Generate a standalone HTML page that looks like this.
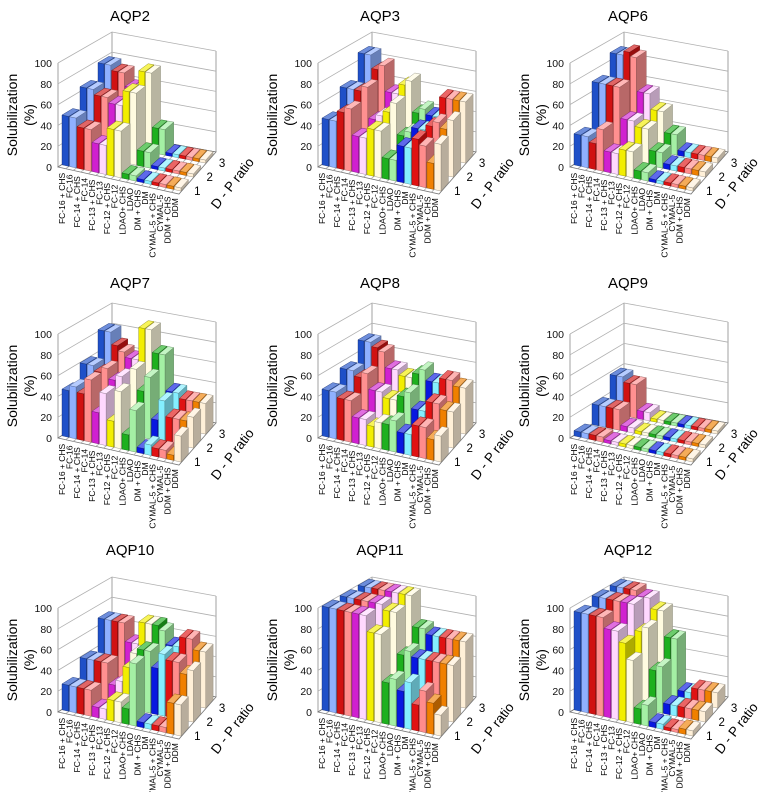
<!DOCTYPE html>
<html><head><meta charset="utf-8">
<style>
html,body{margin:0;padding:0;background:#fff;}
svg{display:block;font-family:"Liberation Sans",sans-serif;}
</style></head>
<body>
<svg id="fig" width="760" height="792" viewBox="0 0 760 792" xmlns="http://www.w3.org/2000/svg"></svg>
<script>
const categories = ["FC-16 + CHS","FC-16","FC-14 + CHS","FC-14","FC-13 + CHS","FC-13","FC-12 + CHS","FC-12","LDAO+ CHS","LDAO","DM + CHS","DM","CYMAL-5 + CHS","CYMAL-5","DDM + CHS","DDM"];
const ratioLabels = ["1","2","3"];
const yTicks = [0,20,40,60,80,100];
const panelTitles = ["AQP2","AQP3","AQP6","AQP7","AQP8","AQP9","AQP10","AQP11","AQP12"];
const barColors = ["#1f50c8","#8fb0ff","#d01212","#ff9090","#d020d0","#ffd8ff","#f2ee00","#fffbe0","#1eb01e","#a4f0a4","#0818e0","#84eeff","#e01212","#ff8c8c","#f08000","#fff0d8"];

const aqp2_ratio1 = [48,48,40,40,28,28,45,45,5,5,3,3,3,3,3,3];
const aqp2_ratio2 = [65,65,60,60,55,55,70,70,15,15,3,3,3,3,3,3];
const aqp2_ratio3 = [78,78,73,73,60,60,78,78,25,25,3,3,3,3,3,3];
const aqp3_ratio1 = [45,45,55,60,35,35,45,45,20,20,35,35,45,40,25,45];
const aqp3_ratio2 = [65,65,65,70,40,45,50,60,30,35,40,40,45,50,45,55];
const aqp3_ratio3 = [88,88,75,80,55,55,65,70,40,45,40,40,60,60,60,60];
const aqp6_ratio1 = [30,30,25,40,20,20,25,25,8,8,3,3,3,3,3,3];
const aqp6_ratio2 = [70,70,70,70,40,40,35,35,15,15,5,5,5,5,5,5];
const aqp6_ratio3 = [88,88,92,88,55,55,40,40,20,20,5,5,5,5,5,5];
const aqp7_ratio1 = [45,50,45,60,30,50,25,55,15,40,5,10,8,8,5,25];
const aqp7_ratio2 = [60,60,55,60,50,55,40,65,45,60,20,40,25,25,25,30];
const aqp7_ratio3 = [82,82,70,65,60,60,92,92,70,70,35,35,30,30,30,30];
const aqp8_ratio1 = [45,45,40,40,25,25,20,25,25,30,20,20,30,30,20,25];
const aqp8_ratio2 = [55,55,50,55,40,40,35,35,40,45,30,30,40,40,35,35];
const aqp8_ratio3 = [72,72,68,65,50,50,45,45,50,55,45,45,50,50,45,45];
const aqp9_ratio1 = [5,5,5,5,3,3,3,3,3,3,3,3,3,3,3,3];
const aqp9_ratio2 = [20,20,20,20,5,5,3,3,3,3,3,3,3,3,3,3];
const aqp9_ratio3 = [38,38,33,33,8,8,3,3,3,3,3,3,3,3,3,3];
const aqp10_ratio1 = [25,25,25,25,10,10,20,20,15,60,5,5,5,5,30,30];
const aqp10_ratio2 = [40,40,40,40,20,25,40,55,60,60,45,60,55,55,45,50];
const aqp10_ratio3 = [68,68,68,68,50,50,72,72,72,68,55,55,65,65,55,55];
const aqp11_ratio1 = [100,100,100,100,100,100,85,85,40,45,35,45,25,40,30,20];
const aqp11_ratio2 = [100,100,100,100,100,100,95,95,55,60,55,55,55,55,55,55];
const aqp11_ratio3 = [100,100,100,100,100,100,100,100,70,70,65,65,65,65,65,65];
const aqp12_ratio1 = [95,95,95,95,85,85,75,60,15,20,5,5,3,3,5,5];
const aqp12_ratio2 = [100,100,100,100,100,100,75,80,40,45,10,10,10,10,10,10];
const aqp12_ratio3 = [100,100,100,100,95,95,85,85,60,60,10,10,15,15,15,15];

const panelSeries = [
 [aqp2_ratio1,aqp2_ratio2,aqp2_ratio3],[aqp3_ratio1,aqp3_ratio2,aqp3_ratio3],[aqp6_ratio1,aqp6_ratio2,aqp6_ratio3],
 [aqp7_ratio1,aqp7_ratio2,aqp7_ratio3],[aqp8_ratio1,aqp8_ratio2,aqp8_ratio3],[aqp9_ratio1,aqp9_ratio2,aqp9_ratio3],
 [aqp10_ratio1,aqp10_ratio2,aqp10_ratio3],[aqp11_ratio1,aqp11_ratio2,aqp11_ratio3],[aqp12_ratio1,aqp12_ratio2,aqp12_ratio3]];

const NS = "http://www.w3.org/2000/svg";
const svg = document.getElementById("fig");
function mk(tag, attrs, parent){ const e=document.createElementNS(NS,tag); for(const k in attrs) e.setAttribute(k,attrs[k]); parent.appendChild(e); return e; }
function shade(hex,f){ const n=parseInt(hex.slice(1),16); let r=n>>16,g=(n>>8)&255,b=n&255;
  if(f<1){r*=f;g*=f;b*=f;} else {r=r+(255-r)*(f-1);g=g+(255-g)*(f-1);b=b+(255-b)*(f-1);}
  return "rgb("+Math.round(r)+","+Math.round(g)+","+Math.round(b)+")"; }

const FL=[58,167], FR=[179,194], BL=[112,133], BR=[216,152];
function floorPt(u,w){ const x=(1-u)*(1-w)*FL[0]+u*(1-w)*FR[0]+(1-u)*w*BL[0]+u*w*BR[0];
  const y=(1-u)*(1-w)*FL[1]+u*(1-w)*FR[1]+(1-u)*w*BL[1]+u*w*BR[1]; return [x,y]; }
function hScale(w){ return 1.04-0.03*w; }
function pt(u,w,v){ const p=floorPt(u,w); return [p[0], p[1]-v*hScale(w)]; }
function poly(pts){ return pts.map(p=>p[0].toFixed(1)+","+p[1].toFixed(1)).join(" "); }

const colX=[0,260,512], rowY=[0,271,545], titleX=[130,380,628], titleY=[21,288,555], dpX=[236,236,228];

panelTitles.forEach((title,pi)=>{
  const col=pi%3, row=Math.floor(pi/3);
  const cx=colX[col], cy=rowY[row];
  const t=mk("text",{x:titleX[col],y:titleY[row],"text-anchor":"middle","font-size":"15"},svg);
  t.textContent=title;
  
  
  const g=mk("g",{transform:"translate("+cx+","+cy+")"},svg);
  
  
  const axes=mk("g",{stroke:"#8a8a8a","stroke-width":"0.8",fill:"none"},g);
  
  
  [[0,0],[0,1],[1,1]].forEach(([u,w])=>{ const a=pt(u,w,0), b=pt(u,w,100); mk("line",{x1:a[0],y1:a[1],x2:b[0],y2:b[1]},axes); });
  yTicks.forEach(v=>{ const a=pt(0,0,v), b=pt(0,1,v), c=pt(1,1,v);
    mk("polyline",{points:poly([a,b,c]),stroke:v===0?"#666":"#b0b0b0"},axes); });
  mk("polygon",{points:poly([floorPt(0,0),floorPt(1,0),floorPt(1,1),floorPt(0,1)]),fill:"#fff",stroke:"#777"},axes);
  for(let i=1;i<16;i++){ const a=floorPt(i/16,0), b=floorPt(i/16,1); mk("line",{x1:a[0],y1:a[1],x2:b[0],y2:b[1],stroke:"#aaa"},axes); }
  yTicks.forEach(v=>{ const p=pt(0,0,v); const tt=mk("text",{x:p[0]-6,y:p[1]+4,"text-anchor":"end","font-size":"10.5",fill:"#111"},g); tt.textContent=v;
    
     });
  const yt=mk("text",{transform:"translate(17,115) rotate(-90)","text-anchor":"middle","font-size":"14"},g); yt.textContent="Solubilization";
  
  
  const yt2=mk("text",{transform:"translate(34,115) rotate(-90)","text-anchor":"middle","font-size":"14"},g); yt2.textContent="(%)";
  
  
  categories.forEach((c,i)=>{ const p=floorPt((i+0.5)/16,0);
    const tt=mk("text",{transform:"translate("+(p[0]+3).toFixed(1)+","+(p[1]+5).toFixed(1)+") rotate(-90)","text-anchor":"end","font-size":"8.5"},g); tt.textContent=c;
    
     });
  ratioLabels.forEach((r,ri)=>{ const p=floorPt(1,(ri+0.5)/3);
    const tt=mk("text",{x:p[0]+9,y:p[1]+8,"font-size":"11.5"},g); tt.textContent=r;
    
     });
  const dp=mk("text",{transform:"translate("+dpX[col]+",186) rotate(-52)","text-anchor":"middle","font-size":"13.5"},g); dp.textContent="D - P ratio";
  
  
  const series=panelSeries[pi];
  for(let r=2;r>=0;r--){
    for(let i=0;i<16;i++){
      const v=series[r][i], c=barColors[i];
      const u0=(i+0.06)/16,u1=(i+0.94)/16,w0=(r+0.2)/3,w1=(r+0.8)/3;
      const bg=mk("g",{stroke:shade(c,0.55),"stroke-width":"0.4","stroke-linejoin":"round"},g);
      
      
      mk("polygon",{points:poly([pt(u1,w0,0),pt(u1,w1,0),pt(u1,w1,v),pt(u1,w0,v)]),fill:shade(c,0.72)},bg);
      mk("polygon",{points:poly([pt(u0,w0,0),pt(u1,w0,0),pt(u1,w0,v),pt(u0,w0,v)]),fill:c},bg);
      mk("polygon",{points:poly([pt(u0,w0,v),pt(u1,w0,v),pt(u1,w1,v),pt(u0,w1,v)]),fill:shade(c,1.35)},bg);
    }
  }
});
</script>
</body></html>
